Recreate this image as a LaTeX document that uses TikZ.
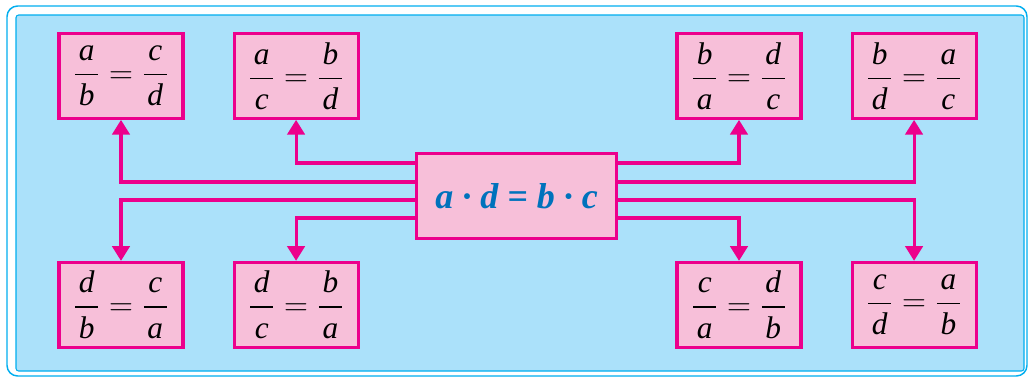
\documentclass[tikz,border=0pt]{standalone}
\usepackage{amsmath}
\usepackage{fontspec}
\setmainfont{Liberation Serif}
\usepackage{xcolor}
\definecolor{magline}{RGB}{236, 0, 140}
\definecolor{pinkbg}{RGB}{247, 191, 217}
\definecolor{skybg}{RGB}{171, 225, 250}
\definecolor{framecyan}{RGB}{0, 174, 239}
\definecolor{textblue}{RGB}{0, 114, 188}
\usetikzlibrary{arrows.meta,positioning}
\newcommand{\ratio}[4]{$\dfrac{\mkern2mu\textit{#1}\mkern2mu}{\mkern2mu\textit{#2}\mkern2mu}=\dfrac{\mkern2mu\textit{#3}\mkern2mu}{\mkern2mu\textit{#4}\mkern2mu}$}

\begin{document}
\begin{tikzpicture}[
  x=0.75pt, y=-0.75pt,
  node distance=105.75pt and 36pt,
  fracbox/.style={draw=magline, fill=pinkbg, line width=2.3pt, minimum width=93pt, minimum height=63.5pt, inner sep=0pt, font=\fontsize{23.5}{28}\selectfont},
  centerbox/.style={draw=magline, fill=pinkbg, line width=2.3pt, minimum width=150pt, minimum height=63.5pt, inner sep=0pt, text=textblue, font=\fontsize{27}{30}\selectfont\bfseries\itshape},
  arrow/.style={-{Triangle[length=11pt,width=13pt]}, line width=2.3pt, color=magline}
]
\useasboundingbox (0,0) rectangle (1029,379);
\draw[framecyan, line width=1.1pt, fill=white, rounded corners=8pt] (7,6) rectangle (1027,376);
\draw[framecyan, line width=0.8pt, fill=skybg, rounded corners=2pt] (16,15) rectangle (1024,371);

\node[centerbox] (ctr) at (516.5,196) {a · d = b · c};

% top row
\node[fracbox] (ab) at (121,76) {\ratio{a}{b}{c}{d}};
\node[fracbox, right=of ab] (ac) {\ratio{a}{c}{b}{d}};
\node[fracbox] (ba) at (739,76) {\ratio{b}{a}{d}{c}};
\node[fracbox, right=of ba] (bd) {\ratio{b}{d}{a}{c}};

% bottom row
\node[fracbox, below=of ab] (db) {\ratio{d}{b}{c}{a}};
\node[fracbox, below=of ac] (dc) {\ratio{d}{c}{b}{a}};
\node[fracbox, below=of ba] (ca) {\ratio{c}{a}{d}{b}};
\node[fracbox, below=of bd] (cd) {\ratio{c}{d}{a}{b}};

\draw[arrow] ([yshift=24.75pt]ctr.west) -| (ac.south);
\draw[arrow] ([yshift=10.5pt]ctr.west) -| (ab.south);
\draw[arrow] ([yshift=-3pt]ctr.west) -| (db.north);
\draw[arrow] ([yshift=-16.5pt]ctr.west) -| (dc.north);
\draw[arrow] ([yshift=24.75pt]ctr.east) -| (ba.south);
\draw[arrow] ([yshift=10.5pt]ctr.east) -| (bd.south);
\draw[arrow] ([yshift=-3pt]ctr.east) -| (cd.north);
\draw[arrow] ([yshift=-16.5pt]ctr.east) -| (ca.north);
\end{tikzpicture}
\end{document}
